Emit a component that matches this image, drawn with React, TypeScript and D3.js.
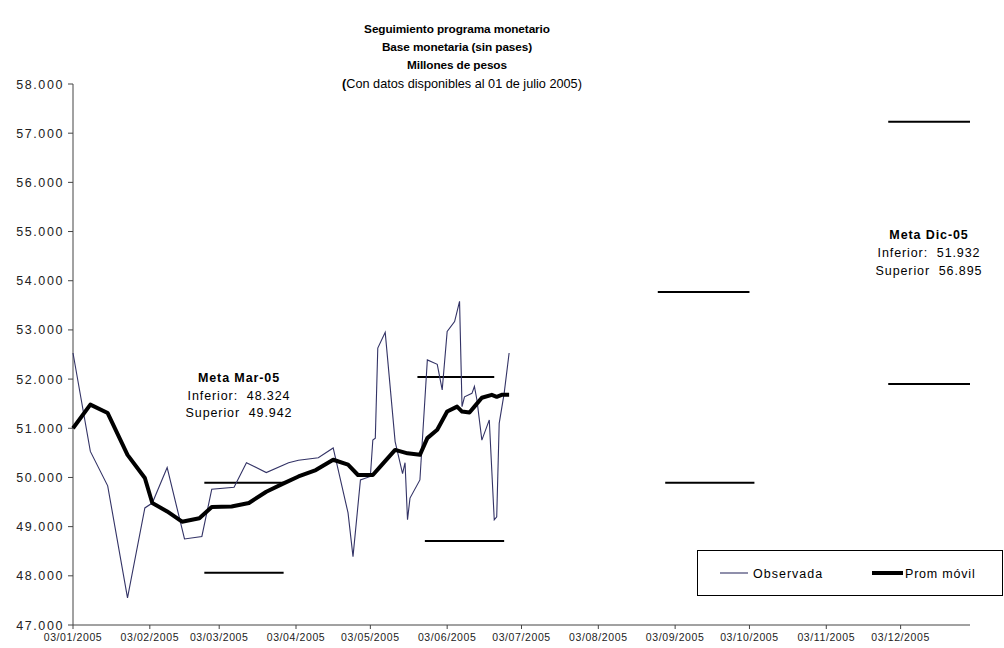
import * as d3 from "d3";

const obsDates = [
  "03/01/2005", "10/01/2005", "17/01/2005", "25/01/2005", "01/02/2005", "04/02/2005",
  "10/02/2005", "17/02/2005", "24/02/2005", "28/02/2005", "09/03/2005", "14/03/2005",
  "22/03/2005", "31/03/2005", "04/04/2005", "12/04/2005", "18/04/2005", "24/04/2005",
  "26/04/2005", "29/04/2005", "03/05/2005", "04/05/2005", "05/05/2005", "06/05/2005",
  "09/05/2005", "13/05/2005", "16/05/2005", "17/05/2005", "18/05/2005", "19/05/2005",
  "23/05/2005", "26/05/2005", "30/05/2005", "01/06/2005", "03/06/2005", "06/06/2005",
  "08/06/2005", "09/06/2005", "10/06/2005", "13/06/2005", "14/06/2005", "15/06/2005",
  "17/06/2005", "20/06/2005", "22/06/2005", "23/06/2005", "24/06/2005", "26/06/2005",
  "28/06/2005",
];
const obsValues = [
  52530, 50530, 49830, 47550, 49380, 49480,
  50200, 48750, 48800, 49760, 49800, 50300,
  50100, 50300, 50350, 50400, 50600, 49280,
  48390, 49950, 50020, 50760, 50800, 52630,
  52950, 50730, 50080, 50300, 49140, 49580,
  49950, 52390, 52300, 51780, 52970, 53170,
  53580, 51440, 51640, 51710, 51850, 51580,
  50760, 51170, 49140, 49200, 51100, 51710,
  52530,
];

const avgDates = [
  "03/01/2005", "10/01/2005", "17/01/2005", "25/01/2005", "01/02/2005", "04/02/2005",
  "10/02/2005", "16/02/2005", "23/02/2005", "28/02/2005", "08/03/2005", "15/03/2005",
  "22/03/2005", "29/03/2005", "04/04/2005", "11/04/2005", "18/04/2005", "24/04/2005",
  "28/04/2005", "04/05/2005", "07/05/2005", "13/05/2005", "18/05/2005", "23/05/2005",
  "26/05/2005", "30/05/2005", "03/06/2005", "07/06/2005", "09/06/2005", "12/06/2005",
  "14/06/2005", "17/06/2005", "21/06/2005", "23/06/2005", "25/06/2005", "28/06/2005",
];
const avgValues = [
  51000, 51480, 51310, 50460, 49990, 49480,
  49310, 49100, 49170, 49400, 49410, 49480,
  49710, 49880, 50020, 50150, 50360, 50260,
  50050, 50050, 50220, 50560, 50490, 50460,
  50800, 50970, 51340, 51440, 51340, 51320,
  51440, 51620, 51680, 51640, 51680, 51680,
];

// target bands: [start, end, value]
const metaSegments: [string, string, number][] = [
  ["25/02/2005", "29/03/2005", 49890],
  ["25/02/2005", "29/03/2005", 48060],
  ["22/05/2005", "22/06/2005", 52040],
  ["25/05/2005", "26/06/2005", 48710],
  ["27/08/2005", "03/10/2005", 53770],
  ["30/08/2005", "05/10/2005", 49890],
  ["28/11/2005", "31/12/2005", 57230],
  ["28/11/2005", "31/12/2005", 51900],
];

const monthTicks = [
  "03/01/2005", "03/02/2005", "03/03/2005", "03/04/2005", "03/05/2005", "03/06/2005",
  "03/07/2005", "03/08/2005", "03/09/2005", "03/10/2005", "03/11/2005", "03/12/2005",
];
const yTicks = [47000, 48000, 49000, 50000, 51000, 52000, 53000, 54000, 55000, 56000, 57000, 58000];

const titleLines = [
  "Seguimiento programa monetario",
  "Base monetaria (sin pases)",
  "Millones de pesos",
];

const parse = d3.timeParse("%d/%m/%Y");
const fmtDate = d3.timeFormat("%d/%m/%Y");
const fmtNum = d3.formatLocale({ decimal: ",", thousands: ".", grouping: [3], currency: ["$", ""] }).format(",.0f");

const W = 1004;
const H = 648;
const font = "'Liberation Sans', Arial, sans-serif";
const nb = "\u00A0";

export default function App() {
  const x = d3
    .scaleTime()
    .domain([parse("03/01/2005")!, parse("31/12/2005")!])
    .range([73, 970]);
  const y = d3.scaleLinear().domain([47000, 58000]).range([625, 84]);

  const obs = obsDates.map((d, i) => [parse(d)!, obsValues[i]] as [Date, number]);
  const avg = avgDates.map((d, i) => [parse(d)!, avgValues[i]] as [Date, number]);
  const line = d3
    .line<[Date, number]>()
    .x((d) => x(d[0]))
    .y((d) => y(d[1]));

  return (
    <svg width={W} height={H} style={{ position: "absolute", left: 0, top: 0, background: "#fff" }} fontFamily={font}>
      {/* title */}
      {titleLines.map((t, i) => (
        <text key={t} x={457} y={33 + i * 18} textAnchor="middle" fontSize={11.8} fontWeight="bold" letterSpacing={-0.1}>
          {t}
        </text>
      ))}
      <text x={462} y={88} textAnchor="middle" fontSize={12.7}>
        <tspan fontWeight="bold">(</tspan>Con datos disponibles al 01 de julio 2005)
      </text>

      {/* y axis */}
      <line x1={73} x2={73} y1={y(58000)} y2={y(47000)} stroke="#444" />
      {yTicks.map((v) => (
        <g key={v}>
          <line x1={68} x2={73} y1={y(v)} y2={y(v)} stroke="#444" />
          <text x={64} y={y(v) + 4.5} textAnchor="end" fontSize={12.5} letterSpacing={1.6} fill="#222">
            {fmtNum(v)}
          </text>
        </g>
      ))}

      {/* x axis */}
      <line x1={73} x2={970} y1={625} y2={625} stroke="#444" />
      {monthTicks.map((d) => {
        const px = x(parse(d)!);
        return (
          <g key={d}>
            <line x1={px} x2={px} y1={625} y2={629} stroke="#444" />
            <text x={px} y={641} textAnchor="middle" fontSize={10.5} letterSpacing={0.6} fill="#222">
              {fmtDate(parse(d)!)}
            </text>
          </g>
        );
      })}

      {/* target segments */}
      {metaSegments.map(([a, b, v], i) => (
        <line key={i} x1={x(parse(a)!)} x2={x(parse(b)!)} y1={y(v)} y2={y(v)} stroke="#000" strokeWidth={2} />
      ))}

      {/* series */}
      <path d={line(obs)!} fill="none" stroke="#333366" strokeWidth={1.1} />
      <path d={line(avg)!} fill="none" stroke="#000" strokeWidth={4} strokeLinejoin="round" />

      {/* annotations */}
      <g fontSize={12.5} textAnchor="middle" letterSpacing={0.9}>
        <text x={239} y={382} fontWeight="bold">Meta Mar-05</text>
        <text x={239} y={400}>{`Inferior:${nb} 48.324`}</text>
        <text x={239} y={417}>{`Superior${nb} 49.942`}</text>
        <text x={929} y={239} fontWeight="bold">Meta Dic-05</text>
        <text x={929} y={257}>{`Inferior:${nb} 51.932`}</text>
        <text x={929} y={275}>{`Superior${nb} 56.895`}</text>
      </g>

      {/* legend */}
      <rect x={697.5} y={550.5} width={305} height={45} fill="#fff" stroke="#000" />
      <line x1={720} x2={748} y1={573} y2={573} stroke="#333366" strokeWidth={1.1} />
      <text x={753} y={577.5} fontSize={12.5} letterSpacing={1}>Observada</text>
      <line x1={872} x2={903} y1={573} y2={573} stroke="#000" strokeWidth={4} />
      <text x={905} y={577.5} fontSize={12.5} letterSpacing={0.8}>Prom móvil</text>
    </svg>
  );
}
